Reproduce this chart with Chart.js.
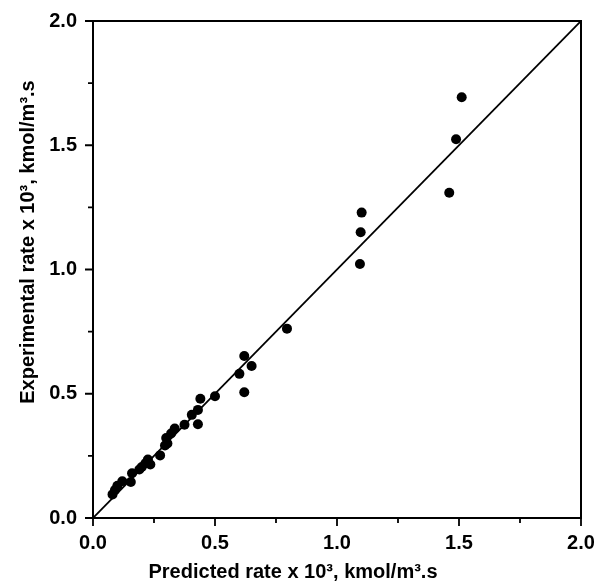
<!DOCTYPE html>
<html>
<head>
<meta charset="utf-8">
<script src="https://cdn.jsdelivr.net/npm/chart.js@4"></script>
<style>
  html, body { margin: 0; padding: 0; background: #ffffff; }
  canvas { display: block; }
</style>
</head>
<body>
<canvas id="parity" width="597" height="586"></canvas>
<script>
// Predicted vs. experimental reaction rates (x 10^3, kmol/m^3.s)
const predicted = [
  0.08, 0.09, 0.10, 0.12, 0.155, 0.16, 0.19, 0.20, 0.215, 0.225,
  0.235, 0.275, 0.295, 0.30, 0.305, 0.32, 0.335, 0.375, 0.405, 0.43,
  0.44, 0.43, 0.50, 0.60, 0.62, 0.65, 0.62, 0.795, 1.094, 1.097,
  1.101, 1.46, 1.488, 1.511
];
const experimental = [
  0.095, 0.113, 0.130, 0.148, 0.145, 0.180, 0.195, 0.205, 0.220, 0.235,
  0.215, 0.252, 0.292, 0.322, 0.300, 0.340, 0.360, 0.375, 0.415, 0.435,
  0.480, 0.377, 0.490, 0.580, 0.652, 0.612, 0.506, 0.762, 1.022, 1.150,
  1.229, 1.309, 1.524, 1.693
];
// y = x reference line
const parityX = [0, 2];
const parityY = [0, 2];

const axisMin = 0;
const axisMax = 2;
const majorStep = 0.5;
const minorStep = 0.25;

const xTitle = 'Predicted rate x 10³, kmol/m³.s';
const yTitle = 'Experimental rate x 10³, kmol/m³.s';

const FONT = '"Liberation Sans", Arial, Helvetica, sans-serif';

// Box frame, outward tick marks (major + minor) and axis titles
const frameTicksTitles = {
  id: 'frameTicksTitles',
  afterDraw(chart) {
    const ctx = chart.ctx;
    const a = chart.chartArea;
    const xs = chart.scales.x;
    const ys = chart.scales.y;
    ctx.save();
    ctx.strokeStyle = '#000';
    ctx.lineWidth = 2;
    ctx.strokeRect(a.left, a.top, a.right - a.left, a.bottom - a.top);
    ctx.lineWidth = 1.8;
    ctx.beginPath();
    for (let v = axisMin; v <= axisMax + 1e-9; v += minorStep) {
      const major = Math.abs(v / majorStep - Math.round(v / majorStep)) < 1e-6;
      const len = major ? 8 : 5;
      const px = xs.getPixelForValue(v);
      ctx.moveTo(px, a.bottom);
      ctx.lineTo(px, a.bottom + len);
      const py = ys.getPixelForValue(v);
      ctx.moveTo(a.left, py);
      ctx.lineTo(a.left - len, py);
    }
    ctx.stroke();

    ctx.fillStyle = '#000';
    ctx.font = 'bold 20px ' + FONT;
    ctx.textAlign = 'center';
    ctx.textBaseline = 'middle';
    ctx.fillText(xTitle, 293, 572);
    ctx.translate(28, 242);
    ctx.rotate(-Math.PI / 2);
    ctx.fillText(yTitle, 0, 0);
    ctx.restore();
  }
};

const zeroPad = s => {
  s.paddingLeft = 0; s.paddingRight = 0; s.paddingTop = 0; s.paddingBottom = 0;
};

new Chart(document.getElementById('parity'), {
  type: 'scatter',
  data: {
    datasets: [
      {
        label: 'Data',
        data: predicted.map((x, i) => ({ x: x, y: experimental[i] })),
        pointRadius: 5,
        pointHoverRadius: 5,
        pointBackgroundColor: '#000',
        pointBorderWidth: 0,
        showLine: false,
        order: 1
      },
      {
        label: 'y = x',
        type: 'line',
        data: parityX.map((x, i) => ({ x: x, y: parityY[i] })),
        borderColor: '#000',
        borderWidth: 1.8,
        pointRadius: 0,
        fill: false,
        order: 2
      }
    ]
  },
  options: {
    responsive: false,
    animation: false,
    devicePixelRatio: 1,
    layout: { padding: { left: 0, right: 16, top: 21, bottom: 0 } },
    plugins: {
      legend: { display: false },
      tooltip: { enabled: false }
    },
    scales: {
      x: {
        type: 'linear',
        min: axisMin,
        max: axisMax,
        grid: { display: false, drawTicks: false },
        border: { display: false },
        ticks: {
          stepSize: majorStep,
          padding: 13,
          color: '#000',
          maxRotation: 0,
          font: { family: FONT, size: 20, weight: 'bold' },
          callback: v => Number(v).toFixed(1)
        },
        afterFit: s => { s.height = 586 - 518; zeroPad(s); }
      },
      y: {
        type: 'linear',
        min: axisMin,
        max: axisMax,
        grid: { display: false, drawTicks: false },
        border: { display: false },
        ticks: {
          stepSize: majorStep,
          padding: 16,
          color: '#000',
          font: { family: FONT, size: 20, weight: 'bold' },
          callback: v => Number(v).toFixed(1)
        },
        afterFit: s => { s.width = 93; zeroPad(s); }
      }
    }
  },
  plugins: [frameTicksTitles]
});
</script>
</body>
</html>
